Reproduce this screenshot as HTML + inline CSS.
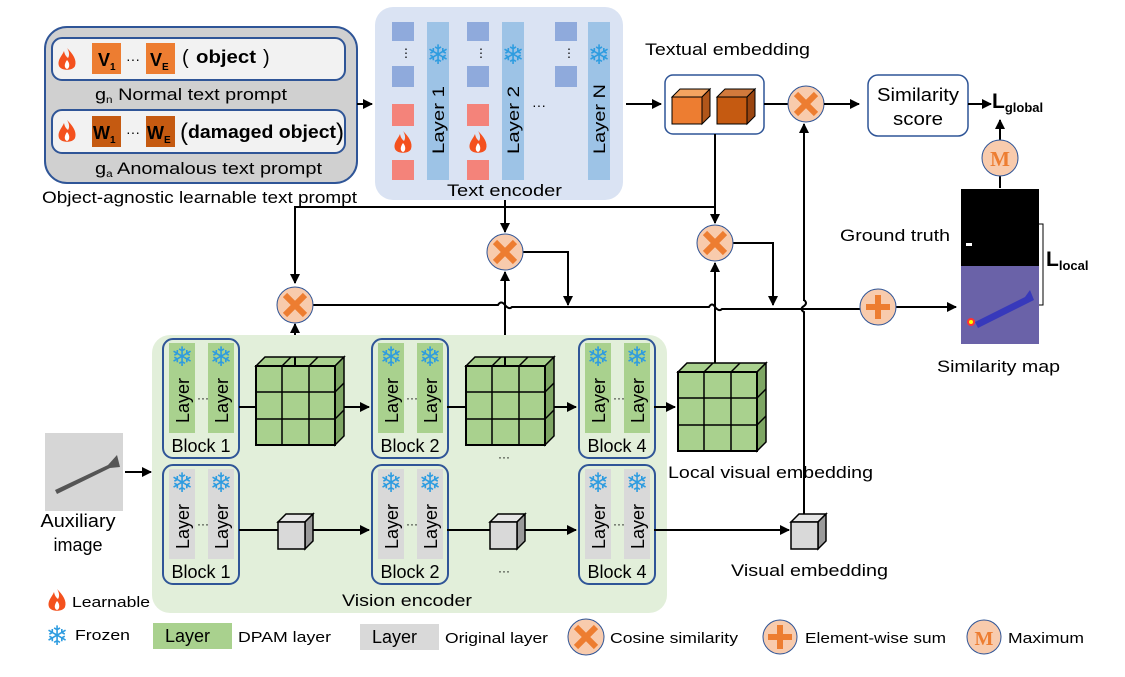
<!DOCTYPE html>
<html><head><meta charset="utf-8"><style>
html,body{margin:0;padding:0;background:#fff}
svg{display:block;font-family:"Liberation Sans",sans-serif}
</style></head><body>
<svg width="1125" height="677" viewBox="0 0 1125 677" xmlns="http://www.w3.org/2000/svg">
<defs>
<marker id="ah" markerWidth="10" markerHeight="10" refX="9" refY="5" orient="auto" markerUnits="userSpaceOnUse"><path d="M0,0 L10,5 L0,10 z" fill="#000"/></marker>
<g id="flame"><path d="M0,-12 C6,-6 10,0 8,6 C6,11 -6,11 -8,6 C-10,0 -5,-4 -3,-9 C-2,-4 0,-3 1,-2 C3,-5 2,-9 0,-12 z" fill="#f4511e"/><path d="M0,0 C3,3 3,8 0,9 C-3,8 -3,4 0,0z" fill="#fff"/></g>
<g id="cube"><polygon points="0,0 9,-9 88,-9 79,0" fill="#a9d18e" stroke="#000" stroke-width="1.5"/><polygon points="79,0 88,-9 88,70 79,79" fill="#7ea664" stroke="#000" stroke-width="1.5"/><rect x="0" y="0" width="79" height="79" fill="#a9d18e" stroke="#000" stroke-width="2"/><path d="M26,0V79M53,0V79M0,26H79M0,53H79M26,0L35,-9M53,0L62,-9M79,26L88,17M79,53L88,44" stroke="#000" stroke-width="1.5" fill="none"/></g>
<g id="gcube"><polygon points="0,0 8,-8 35,-8 27,0" fill="#e6e6e6" stroke="#000" stroke-width="1.5"/><polygon points="27,0 35,-8 35,19 27,27" fill="#9a9a9a" stroke="#000" stroke-width="1.5"/><rect width="27" height="27" fill="#d9d9d9" stroke="#000" stroke-width="1.5"/></g>
<g id="cos"><circle r="18" fill="#f8cbad" stroke="#2f5597" stroke-width="1"/><path d="M-10,-10L10,10M10,-10L-10,10" stroke="#ed7d31" stroke-width="6"/></g>
<g id="sf"><text x="0" y="0" font-size="27" fill="#2e9ce0" text-anchor="middle">❄</text></g>
</defs>

<!-- prompt group -->
<rect x="45" y="27" width="312" height="156" rx="22" fill="#d0d0d0" stroke="#2f5597" stroke-width="2"/>
<rect x="52" y="38" width="293" height="42" rx="10" fill="#f2f2f2" stroke="#2f5597" stroke-width="2"/>
<rect x="52" y="110" width="293" height="43" rx="10" fill="#f2f2f2" stroke="#2f5597" stroke-width="2"/>
<use href="#flame" x="67" y="60"/><use href="#flame" x="67" y="132"/>
<rect x="92" y="43" width="29" height="31" fill="#ed7d31"/><rect x="146" y="43" width="29" height="31" fill="#ed7d31"/>
<text x="98" y="66" font-size="18" font-weight="bold">V<tspan font-size="10" dy="4">1</tspan></text>
<text x="126" y="64" font-size="14">···</text>
<text x="150" y="66" font-size="18" font-weight="bold">V<tspan font-size="10" dy="4">E</tspan></text>
<text x="182" y="64" font-size="20">(</text><text x="196" y="63" font-size="18" font-weight="bold" textLength="60" lengthAdjust="spacingAndGlyphs">object</text><text x="263" y="64" font-size="20">)</text>
<rect x="92" y="116" width="29" height="31" fill="#c55a11"/><rect x="146" y="116" width="29" height="31" fill="#c55a11"/>
<text x="93" y="139" font-size="18" font-weight="bold">W<tspan font-size="10" dy="4">1</tspan></text>
<text x="126" y="137" font-size="14">···</text>
<text x="147" y="139" font-size="18" font-weight="bold">W<tspan font-size="10" dy="4">E</tspan></text>
<text x="180" y="140" font-size="24">(</text><text x="188" y="138" font-size="18" font-weight="bold" textLength="148" lengthAdjust="spacingAndGlyphs">damaged object</text><text x="336" y="140" font-size="24">)</text>
<text x="95" y="100" font-size="17" textLength="192" lengthAdjust="spacingAndGlyphs">g<tspan font-size="10" dy="3">n</tspan><tspan dy="-3"> Normal text prompt</tspan></text>
<text x="95" y="174" font-size="17" textLength="227" lengthAdjust="spacingAndGlyphs">g<tspan font-size="10" dy="3">a</tspan><tspan dy="-3"> Anomalous text prompt</tspan></text>
<text x="42" y="203" font-size="17" textLength="315" lengthAdjust="spacingAndGlyphs">Object-agnostic learnable text prompt</text>
<line x1="357" y1="104" x2="372" y2="104" stroke="#000" stroke-width="2" marker-end="url(#ah)"/>

<!-- text encoder -->
<rect x="375" y="7" width="248" height="193" rx="18" fill="#dae3f3"/>
<g fill="#8faadc"><rect x="392" y="22" width="22" height="19"/><rect x="392" y="66" width="22" height="21"/><rect x="467" y="22" width="22" height="19"/><rect x="467" y="66" width="22" height="21"/><rect x="555" y="22" width="22" height="19"/><rect x="555" y="66" width="22" height="21"/></g>
<g fill="#f4837a"><rect x="392" y="104" width="22" height="22"/><rect x="392" y="160" width="22" height="20"/><rect x="467" y="104" width="22" height="22"/><rect x="467" y="160" width="22" height="20"/></g>
<use href="#flame" x="403" y="143"/><use href="#flame" x="478" y="143"/>
<g font-size="12"><text x="400" y="57">⋮</text><text x="475" y="57">⋮</text><text x="563" y="57">⋮</text></g>
<g fill="#9dc3e6"><rect x="427" y="22" width="22" height="158"/><rect x="502" y="22" width="22" height="158"/><rect x="588" y="22" width="22" height="158"/></g>
<use href="#sf" x="438" y="64"/><use href="#sf" x="513" y="64"/><use href="#sf" x="599" y="64"/>
<g font-size="17"><text transform="translate(444,154) rotate(-90)" textLength="68" lengthAdjust="spacingAndGlyphs">Layer 1</text><text transform="translate(519,154) rotate(-90)" textLength="68" lengthAdjust="spacingAndGlyphs">Layer 2</text><text transform="translate(605,154) rotate(-90)" textLength="70" lengthAdjust="spacingAndGlyphs">Layer N</text></g>
<text x="532" y="110" font-size="14">···</text>
<text x="447" y="196" font-size="17" textLength="115" lengthAdjust="spacingAndGlyphs">Text encoder</text>
<line x1="626" y1="104" x2="661" y2="104" stroke="#000" stroke-width="2" marker-end="url(#ah)"/>

<!-- textual embedding -->
<text x="645" y="55" font-size="17" textLength="165" lengthAdjust="spacingAndGlyphs">Textual embedding</text>
<rect x="665" y="75" width="99" height="59" rx="8" fill="#fff" stroke="#2f5597" stroke-width="1.5"/>
<polygon points="672,97 680,89 710,89 702,97" fill="#f4a460" stroke="#000"/><polygon points="702,97 710,89 710,116 702,124" fill="#b0561a" stroke="#000"/><rect x="672" y="97" width="30" height="27" fill="#ed7d31" stroke="#000"/>
<polygon points="717,97 725,89 755,89 747,97" fill="#d27a3c" stroke="#000"/><polygon points="747,97 755,89 755,116 747,124" fill="#9a4510" stroke="#000"/><rect x="717" y="97" width="30" height="27" fill="#c55a11" stroke="#000"/>
<line x1="764" y1="104" x2="789" y2="104" stroke="#000" stroke-width="2"/>
<use href="#cos" x="806" y="104"/>
<line x1="824" y1="104" x2="859" y2="104" stroke="#000" stroke-width="2" marker-end="url(#ah)"/>
<rect x="868" y="75" width="100" height="61" rx="10" fill="#fff" stroke="#2f5597" stroke-width="1.5"/>
<text x="918" y="101" font-size="18" text-anchor="middle" textLength="82" lengthAdjust="spacingAndGlyphs">Similarity</text><text x="918" y="125" font-size="18" text-anchor="middle" textLength="50" lengthAdjust="spacingAndGlyphs">score</text>
<line x1="968" y1="104" x2="991" y2="104" stroke="#000" stroke-width="2" marker-end="url(#ah)"/>
<text x="992" y="108" font-size="21" font-weight="bold">L<tspan font-size="13" dy="4">global</tspan></text>
<line x1="1000" y1="188" x2="1000" y2="120" stroke="#000" stroke-width="2" marker-end="url(#ah)"/>
<circle cx="1000" cy="158" r="18" fill="#f8cbad" stroke="#2f5597"/><text x="1000" y="166" font-size="21" font-weight="bold" fill="#ed7d31" text-anchor="middle" font-family="Liberation Serif,serif">M</text>
<rect x="961" y="189" width="78" height="77" fill="#000"/>
<rect x="966" y="243" width="6" height="3" fill="#fff"/>
<rect x="961" y="266" width="78" height="78" fill="#6a62a8"/>
<path d="M975,322 L1025,297 L1030,290 L1034,300 L1030,302 L978,328z" fill="#2a2fbf" opacity="0.8"/>
<circle cx="971" cy="322" r="4" fill="#f33"/><circle cx="971" cy="322" r="2" fill="#ff0"/>
<path d="M1039,224 H1043 V305 H1039" fill="none" stroke="#000"/>
<text x="1046" y="266" font-size="21" font-weight="bold">L<tspan font-size="13" dy="4">local</tspan></text>
<text x="840" y="241" font-size="17" textLength="110" lengthAdjust="spacingAndGlyphs">Ground truth</text>
<text x="937" y="372" font-size="17" textLength="123" lengthAdjust="spacingAndGlyphs">Similarity map</text>

<!-- connectors -->
<g stroke="#000" stroke-width="2" fill="none">
<line x1="715" y1="134" x2="715" y2="223" marker-end="url(#ah)"/>
<path d="M715,207 H295 V283" marker-end="url(#ah)"/>
<line x1="505" y1="200" x2="505" y2="232" marker-end="url(#ah)"/>
<path d="M523,252 H568 V305" marker-end="url(#ah)"/>
<path d="M733,243 H773 V305" marker-end="url(#ah)"/>
<path d="M313,305 H498 q3,-5 7,0 q4,5 7,2 H709 q3,-5 6,0 q4,5 7,2 H860"/>
<path d="M804,524 V312 q-5,-3 0,-6 q4,-3 0,-6"/>
<line x1="804" y1="301" x2="804" y2="124" marker-end="url(#ah)"/>
<line x1="896" y1="307" x2="956" y2="307" marker-end="url(#ah)"/>
<line x1="295" y1="372" x2="295" y2="324" marker-end="url(#ah)"/>
<line x1="505" y1="372" x2="505" y2="272" marker-end="url(#ah)"/>
<line x1="715" y1="372" x2="715" y2="263" marker-end="url(#ah)"/>
</g>
<use href="#cos" x="295" y="305"/><use href="#cos" x="505" y="252"/><use href="#cos" x="715" y="243"/>
<circle cx="878" cy="307" r="18" fill="#f8cbad" stroke="#2f5597"/><path d="M866,307H890M878,295V319" stroke="#ed7d31" stroke-width="6"/>

<!-- vision encoder -->
<rect x="152" y="335" width="515" height="278" rx="18" fill="#e2efda"/>
<g>
<rect x="163" y="339" width="76" height="119" rx="10" fill="none" stroke="#2f5597" stroke-width="2"/>
<rect x="169" y="343" width="26" height="90" fill="#a9d18e"/><rect x="208" y="343" width="26" height="90" fill="#a9d18e"/>
<use href="#sf" x="182" y="366"/><use href="#sf" x="221" y="366"/>
<text transform="translate(189,423) rotate(-90)" font-size="18">Layer</text><text transform="translate(228,423) rotate(-90)" font-size="18">Layer</text>
<text x="197" y="402" font-size="12">···</text>
<text x="201" y="452" font-size="18" text-anchor="middle">Block 1</text>
</g>
<g transform="translate(0,126)">
<rect x="163" y="339" width="76" height="119" rx="10" fill="none" stroke="#2f5597" stroke-width="2"/>
<rect x="169" y="343" width="26" height="90" fill="#d9d9d9"/><rect x="208" y="343" width="26" height="90" fill="#d9d9d9"/>
<use href="#sf" x="182" y="366"/><use href="#sf" x="221" y="366"/>
<text transform="translate(189,423) rotate(-90)" font-size="18">Layer</text><text transform="translate(228,423) rotate(-90)" font-size="18">Layer</text>
<text x="197" y="402" font-size="12">···</text>
<text x="201" y="452" font-size="18" text-anchor="middle">Block 1</text>
</g>
<g transform="translate(209,0)"><rect x="163" y="339" width="76" height="119" rx="10" fill="none" stroke="#2f5597" stroke-width="2"/><rect x="169" y="343" width="26" height="90" fill="#a9d18e"/><rect x="208" y="343" width="26" height="90" fill="#a9d18e"/><use href="#sf" x="182" y="366"/><use href="#sf" x="221" y="366"/><text transform="translate(189,423) rotate(-90)" font-size="18">Layer</text><text transform="translate(228,423) rotate(-90)" font-size="18">Layer</text><text x="197" y="402" font-size="12">···</text><text x="201" y="452" font-size="18" text-anchor="middle">Block 2</text></g>
<g transform="translate(209,126)"><rect x="163" y="339" width="76" height="119" rx="10" fill="none" stroke="#2f5597" stroke-width="2"/><rect x="169" y="343" width="26" height="90" fill="#d9d9d9"/><rect x="208" y="343" width="26" height="90" fill="#d9d9d9"/><use href="#sf" x="182" y="366"/><use href="#sf" x="221" y="366"/><text transform="translate(189,423) rotate(-90)" font-size="18">Layer</text><text transform="translate(228,423) rotate(-90)" font-size="18">Layer</text><text x="197" y="402" font-size="12">···</text><text x="201" y="452" font-size="18" text-anchor="middle">Block 2</text></g>
<g transform="translate(416,0)"><rect x="163" y="339" width="76" height="119" rx="10" fill="none" stroke="#2f5597" stroke-width="2"/><rect x="169" y="343" width="26" height="90" fill="#a9d18e"/><rect x="208" y="343" width="26" height="90" fill="#a9d18e"/><use href="#sf" x="182" y="366"/><use href="#sf" x="221" y="366"/><text transform="translate(189,423) rotate(-90)" font-size="18">Layer</text><text transform="translate(228,423) rotate(-90)" font-size="18">Layer</text><text x="197" y="402" font-size="12">···</text><text x="201" y="452" font-size="18" text-anchor="middle">Block 4</text></g>
<g transform="translate(416,126)"><rect x="163" y="339" width="76" height="119" rx="10" fill="none" stroke="#2f5597" stroke-width="2"/><rect x="169" y="343" width="26" height="90" fill="#d9d9d9"/><rect x="208" y="343" width="26" height="90" fill="#d9d9d9"/><use href="#sf" x="182" y="366"/><use href="#sf" x="221" y="366"/><text transform="translate(189,423) rotate(-90)" font-size="18">Layer</text><text transform="translate(228,423) rotate(-90)" font-size="18">Layer</text><text x="197" y="402" font-size="12">···</text><text x="201" y="452" font-size="18" text-anchor="middle">Block 4</text></g>

<g stroke="#000" stroke-width="2" fill="none">
<line x1="239" y1="407" x2="369" y2="407" marker-end="url(#ah)"/>
<line x1="447" y1="407" x2="576" y2="407" marker-end="url(#ah)"/>
<line x1="654" y1="407" x2="675" y2="407" marker-end="url(#ah)"/>
<line x1="239" y1="530" x2="369" y2="530" marker-end="url(#ah)"/>
<line x1="447" y1="530" x2="576" y2="530" marker-end="url(#ah)"/>
<line x1="654" y1="530" x2="789" y2="530" marker-end="url(#ah)"/>
<line x1="125" y1="472" x2="151" y2="472" marker-end="url(#ah)"/>
</g>
<use href="#cube" x="256" y="366"/><use href="#cube" x="466" y="366"/><use href="#cube" x="678" y="372"/>
<use href="#gcube" x="278" y="522"/><use href="#gcube" x="490" y="522"/><use href="#gcube" x="791" y="522"/>
<line x1="295" y1="366" x2="295" y2="357" stroke="#000" stroke-width="2"/>
<line x1="505" y1="366" x2="505" y2="357" stroke="#000" stroke-width="2"/>
<text x="498" y="461" font-size="12">···</text><text x="498" y="575" font-size="12">···</text>
<text x="668" y="478" font-size="17" textLength="205" lengthAdjust="spacingAndGlyphs">Local visual embedding</text>
<text x="731" y="576" font-size="17" textLength="157" lengthAdjust="spacingAndGlyphs">Visual embedding</text>
<text x="342" y="606" font-size="17" textLength="130" lengthAdjust="spacingAndGlyphs">Vision encoder</text>

<!-- aux image -->
<rect x="45" y="433" width="78" height="78" fill="#d6d6d6"/>
<path d="M55,490 L108,465 L117,455 L120,467 L110,468 L57,494z" fill="#555"/>
<text x="78" y="527" font-size="18" text-anchor="middle" textLength="75" lengthAdjust="spacingAndGlyphs">Auxiliary</text><text x="78" y="551" font-size="18" text-anchor="middle">image</text>

<!-- legend -->
<use href="#flame" x="57" y="601"/><text x="72" y="607" font-size="15" textLength="78" lengthAdjust="spacingAndGlyphs">Learnable</text>
<use href="#sf" x="57" y="645"/><text x="75" y="640" font-size="15" textLength="55" lengthAdjust="spacingAndGlyphs">Frozen</text>
<rect x="153" y="623" width="79" height="26" fill="#a9d18e"/><text x="165" y="642" font-size="18">Layer</text><text x="238" y="642" font-size="15" textLength="93" lengthAdjust="spacingAndGlyphs">DPAM layer</text>
<rect x="360" y="624" width="79" height="26" fill="#d9d9d9"/><text x="372" y="643" font-size="18">Layer</text><text x="445" y="643" font-size="15" textLength="103" lengthAdjust="spacingAndGlyphs">Original layer</text>
<use href="#cos" x="586" y="637"/><text x="610" y="643" font-size="15" textLength="128" lengthAdjust="spacingAndGlyphs">Cosine similarity</text>
<circle cx="780" cy="637" r="17" fill="#f8cbad" stroke="#2f5597"/><path d="M768,637H792M780,625V649" stroke="#ed7d31" stroke-width="6"/><text x="805" y="643" font-size="15" textLength="141" lengthAdjust="spacingAndGlyphs">Element-wise sum</text>
<circle cx="984" cy="637" r="17" fill="#f8cbad" stroke="#2f5597"/><text x="984" y="645" font-size="20" font-weight="bold" fill="#ed7d31" text-anchor="middle" font-family="Liberation Serif,serif">M</text><text x="1008" y="643" font-size="15" textLength="76" lengthAdjust="spacingAndGlyphs">Maximum</text>
</svg>
</body></html>
